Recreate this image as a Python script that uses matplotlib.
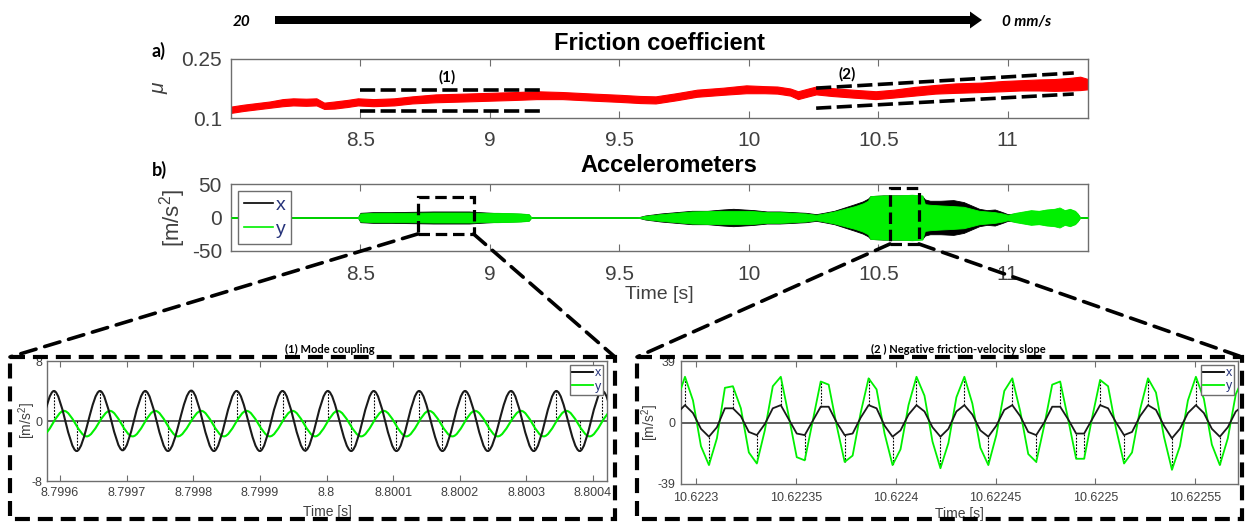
import numpy as np
import matplotlib

matplotlib.use("Agg")
import matplotlib.pyplot as plt
from matplotlib.patches import FancyArrow, Rectangle, ConnectionPatch, PathPatch
from matplotlib.path import Path
from matplotlib.lines import Line2D

plt.rcParams["font.family"] = ["Liberation Sans", "DejaVu Sans"]
plt.rcParams["mathtext.default"] = "regular"

W, H = 1245, 523
AXC = "#6e6e6e"
TXT = "#404040"
GREEN = "#00f000"
LEG_TXT = "#26337a"
OVL = ["Lato", "DejaVu Sans"]

# --- a) friction coefficient (band: centre and half width) ---
fric_t = [8.00, 8.05, 8.10, 8.15, 8.20, 8.24, 8.29, 8.33, 8.36, 8.40, 8.45, 8.49, 8.55, 8.63, 8.70,
          8.79, 8.90, 9.00, 9.10, 9.18, 9.28, 9.40, 9.50, 9.58, 9.64, 9.72, 9.80, 9.90, 9.99, 10.06,
          10.11, 10.16, 10.19, 10.23, 10.26, 10.32, 10.40, 10.49, 10.56, 10.64, 10.72, 10.80, 10.90,
          10.98, 11.05, 11.12, 11.18, 11.24, 11.28, 11.31]
fric_mu = [0.121, 0.126, 0.130, 0.134, 0.139, 0.141, 0.140, 0.141, 0.131, 0.133, 0.137, 0.141, 0.139,
           0.141, 0.146, 0.150, 0.152, 0.154, 0.156, 0.158, 0.157, 0.153, 0.150, 0.147, 0.146, 0.154,
           0.163, 0.168, 0.173, 0.172, 0.171, 0.166, 0.158, 0.165, 0.170, 0.166, 0.162, 0.158, 0.162,
           0.168, 0.173, 0.176, 0.178, 0.181, 0.183, 0.184, 0.184, 0.186, 0.188, 0.186]
fric_hw = [0.008, 0.008, 0.008, 0.008, 0.009, 0.009, 0.009, 0.009, 0.008, 0.009, 0.009, 0.009, 0.009,
           0.009, 0.009, 0.010, 0.010, 0.010, 0.010, 0.010, 0.009, 0.009, 0.009, 0.009, 0.009, 0.009,
           0.009, 0.009, 0.010, 0.009, 0.009, 0.009, 0.010, 0.010, 0.010, 0.010, 0.010, 0.010, 0.010,
           0.011, 0.011, 0.012, 0.012, 0.013, 0.013, 0.014, 0.015, 0.016, 0.017, 0.013]
box1_t, box1_hi, box1_lo = [8.50, 9.20], [0.171, 0.171], [0.118, 0.118]
box2_t, box2_hi, box2_lo = [10.26, 11.255], [0.176, 0.2145], [0.125, 0.161]
top_ticks = [8.5, 9, 9.5, 10, 10.5, 11]
top_ticklabels = ["8.5", "9", "9.5", "10", "10.5", "11"]

# --- b) accelerometer envelopes ---
acc_t = [8.00, 8.49, 8.50, 8.55, 8.62, 8.70, 8.78, 8.85, 8.92, 8.96, 9.03, 9.08, 9.12, 9.15, 9.16,
         9.57, 9.60, 9.66, 9.72, 9.78, 9.84, 9.90, 9.94, 9.98, 10.02, 10.07, 10.12, 10.17, 10.22, 10.26,
         10.29, 10.33, 10.37, 10.41, 10.44, 10.46, 10.47, 10.52, 10.58, 10.63, 10.67, 10.68, 10.70,
         10.74, 10.79, 10.83, 10.86, 10.89, 10.92, 10.95, 10.98, 11.00, 11.03, 11.06, 11.09, 11.12,
         11.15, 11.18, 11.20, 11.22, 11.24, 11.26, 11.27, 11.28, 11.31]
acc_x = [0, 0, 7, 8, 8, 8.5, 9, 9, 9, 8, 6.5, 6, 5.5, 4.5, 0, 0, 3, 6, 8, 10, 10, 12, 13, 12, 11, 9, 9,
         8, 7, 5, 7, 10, 15, 20, 24, 28, 32, 33, 33, 33, 32, 27, 25, 25, 26, 23, 18, 13, 11, 12, 8, 5, 6,
         8, 10, 9, 11, 12, 13, 10, 12, 9, 5, 0, 0]
acc_y = [0, 0, 6, 7, 7, 7, 7.5, 7.5, 7.5, 7, 7, 6.5, 6, 5, 0, 0, 2.5, 5, 7, 9, 9.5, 10, 10, 10, 9.5, 8,
         8, 7, 6, 4, 6, 9, 13, 17, 21, 25, 32, 33, 33, 34, 33, 20, 19, 18, 17, 16, 13, 10, 9, 8, 6, 4, 7,
         9, 11, 10, 12, 13, 15, 11, 13, 10, 6, 0, 0]
zoom1_box = (8.721, 8.937, -24.6, 30.6)
zoom2_box = (10.545, 10.657, -39.5, 43.6)

# --- (1) mode coupling: extrema of the two signals ---
mc_x_t = [8.799557, 8.799591, 8.799625, 8.799660, 8.799694, 8.799728, 8.799762, 8.799797, 8.799831,
          8.799865, 8.799900, 8.799934, 8.799968, 8.800002, 8.800037, 8.800071, 8.800105, 8.800139,
          8.800174, 8.800208, 8.800242, 8.800277, 8.800311, 8.800345, 8.800380, 8.800414, 8.800448]
mc_x_v = [-4.0, 4.0, -4.0, 4.0, -3.9, 4.0, -4.0, 4.05, -4.0, 4.0, -4.0, 4.0, -3.95, 4.0, -4.0, 4.0,
          -4.0, 4.0, -4.0, 4.0, -4.0, 4.0, -4.0, 4.0, -4.0, 4.0, -4.0]
mc_y_t = [8.799572, 8.799606, 8.799640, 8.799675, 8.799709, 8.799743, 8.799777, 8.799812, 8.799846,
          8.799880, 8.799915, 8.799949, 8.799983, 8.800017, 8.800052, 8.800086, 8.800120, 8.800154,
          8.800189, 8.800223, 8.800257, 8.800292, 8.800326, 8.800360, 8.800395, 8.800429, 8.800463]
mc_y_v = [-2.05, 1.35, -2.05, 1.35, -2.05, 1.35, -2.05, 1.35, -2.05, 1.35, -2.05, 1.35, -2.05, 1.35,
          -2.05, 1.35, -2.05, 1.35, -2.05, 1.35, -2.05, 1.35, -2.05, 1.35, -2.05, 1.35, -2.05]
mc_ticks = [8.7996, 8.7997, 8.7998, 8.7999, 8.8, 8.8001, 8.8002, 8.8003, 8.8004]
mc_ticklabels = ["8.7996", "8.7997", "8.7998", "8.7999", "8.8", "8.8001", "8.8002", "8.8003", "8.8004"]

# --- (2) negative friction-velocity slope: sampled signals (t in us after 10.6222 s) ---
nf_t_us = [90.4, 94.4, 98.4, 102.4, 106.4, 110.4, 114.4, 118.4, 122.4, 126.4, 130.4, 134.4, 138.4,
           142.4, 146.4, 150.4, 154.4, 158.4, 162.4, 166.4, 170.4, 174.4, 178.4, 182.4, 186.4, 190.4,
           194.4, 198.4, 202.4, 206.4, 210.4, 214.4, 218.4, 222.4, 226.4, 230.4, 234.4, 238.4, 242.4,
           246.4, 250.4, 254.4, 258.4, 262.4, 266.4, 270.4, 274.4, 278.4, 282.4, 286.4, 290.4, 294.4,
           298.4, 302.4, 306.4, 310.4, 314.4, 318.4, 322.4, 326.4, 330.4, 334.4, 338.4, 342.4, 346.4,
           350.4, 354.4, 358.4, 362.4, 366.4, 370.4, 374.4]
nf_y = [14, 29, 14, -15, -27, -10, 22, 23, 9, -19, -26, -5, 23, 29, 4, -22, -24, 1, 26, 24, -2, -25,
        -21, 6, 28, 21, -7, -27, -17, 11, 29, 17, -12, -29, -13, 16, 29, 12, -16, -27, -8, 20, 28, 7,
        -20, -25, -2, 24, 26, 2, -23, -23, 3, 27, 23, -4, -26, -19, 8, 28, 19, -9, -30, -15, 14, 29,
        15, -14, -27, -10, 18, 29]
nf_x = [6, 11, 6, -4, -9, -3, 9, 9, 4, -6, -8, -1, 9, 11, 2, -7, -8, 1, 10, 10, 0, -8, -7, 3, 11, 9,
        -2, -9, -5, 5, 11, 7, -3, -9, -4, 7, 11, 5, -5, -9, -2, 8, 11, 4, -6, -8, 0, 10, 10, 2, -7, -7,
        2, 11, 9, 0, -8, -6, 4, 11, 8, -2, -10, -4, 6, 11, 6, -4, -9, -3, 7, 11]
nf_ticks = [10.6223, 10.62235, 10.6224, 10.62245, 10.6225, 10.62255]
nf_ticklabels = ["10.6223", "10.62235", "10.6224", "10.62245", "10.6225", "10.62255"]

fig = plt.figure(figsize=(W / 100, H / 100), dpi=100)


def px_axes(l, t, r, b):
    return fig.add_axes([l / W, 1 - b / H, (r - l) / W, (b - t) / H])


def style(ax, size, pad_x, pad_y, length=5):
    for s in ax.spines.values():
        s.set_color(AXC)
        s.set_linewidth(1.0)
    ax.tick_params(direction="in", top=True, right=False, length=length, width=0.8,
                   colors=AXC, labelcolor=TXT, labelsize=size)
    ax.tick_params(axis="x", pad=pad_x)
    ax.tick_params(axis="y", pad=pad_y, length=0)


def smooth(ts, vs):
    # cubic segments between consecutive extrema, flat at each extremum
    verts, codes = [(ts[0], vs[0])], [Path.MOVETO]
    for t0, v0, t1, v1 in zip(ts[:-1], vs[:-1], ts[1:], vs[1:]):
        d = (t1 - t0) / 3
        verts += [(t0 + d, v0), (t1 - d, v1), (t1, v1)]
        codes += [Path.CURVE4] * 3
    return Path(verts, codes)


def small_legend(ax):
    ax.legend([Line2D([], [], color="k", lw=1.3), Line2D([], [], color=GREEN, lw=1.3)], ["x", "y"],
              loc="upper right", fontsize=9, handlelength=1.7, handletextpad=0.1, borderpad=0.2,
              labelspacing=0.1, borderaxespad=0.3, fancybox=False, edgecolor=AXC, framealpha=1,
              labelcolor=LEG_TXT)


# a) friction coefficient
ax_a = px_axes(231, 59, 1088, 118)
mu, hw = np.array(fric_mu), np.array(fric_hw)
ax_a.fill_between(fric_t, mu - hw, mu + hw, color="#ff0000", lw=0.8, ec="#ff0000")
dash_a = (0, (4.2, 1.5))
for tt, yy in [(box1_t, box1_hi), (box1_t, box1_lo), (box2_t, box2_hi), (box2_t, box2_lo)]:
    ax_a.plot(tt, yy, color="k", lw=2.6, ls=dash_a, zorder=4)
ax_a.set_xlim(8.0, 11.31)
ax_a.set_ylim(0.1, 0.25)
ax_a.set_xticks(top_ticks, top_ticklabels)
ax_a.set_yticks([0.1, 0.25], ["0.1", "0.25"])
style(ax_a, 15, 9.5, 6.5)
ax_a.set_ylabel("μ", fontsize=15, color=TXT, style="italic")
ax_a.yaxis.set_label_coords(-0.073, 0.5)

# b) accelerometers
ax_b = px_axes(231, 184, 1088, 251)
ax_b.axhline(0, color=GREEN, lw=1.4, zorder=1)
ax_b.fill_between(acc_t, -np.array(acc_x), acc_x, color="k", lw=0.6, zorder=2)
ax_b.fill_between(acc_t, -np.array(acc_y), acc_y, color=GREEN, lw=0.6, zorder=3)
for (t0, t1, y0, y1) in [zoom1_box, zoom2_box]:
    ax_b.add_patch(Rectangle((t0, y0), t1 - t0, y1 - y0, fill=False, ec="k", lw=2.3,
                             ls=(0, (3.6, 1.8)), clip_on=False, zorder=6))
ax_b.set_xlim(8.0, 11.31)
ax_b.set_ylim(-50, 50)
ax_b.set_xticks(top_ticks, top_ticklabels)
ax_b.set_yticks([-50, 0, 50], ["-50", "0", "50"])
style(ax_b, 15, 10, 6.5)
ax_b.set_ylabel("[m/s$^2$]", fontsize=16, color=TXT)
ax_b.yaxis.set_label_coords(-0.050, 0.5)
ax_b.set_xlabel("Time [s]", fontsize=14, color=TXT)
ax_b.xaxis.set_label_coords(0.5, -0.52)
leg = ax_b.legend([Line2D([], [], color="k", lw=1.2), Line2D([], [], color=GREEN, lw=1.2)], ["x", "y"],
                  loc="upper left", fontsize=14, handlelength=1.5, handletextpad=0.15, borderpad=0.3,
                  labelspacing=0.3, borderaxespad=0.35, fancybox=False, edgecolor=AXC,
                  framealpha=1, labelcolor=LEG_TXT)
leg.set_zorder(5)

# (1) mode coupling
ax_l = px_axes(47, 361, 607, 481)
ax_l.axhline(0, color="#505050", lw=1.3, zorder=1)
ax_l.vlines(mc_x_t, 0, mc_x_v, colors="k", lw=0.8, linestyles=(0, (1.6, 1.3)), zorder=2)
ax_l.add_patch(PathPatch(smooth(mc_y_t, mc_y_v), fc="none", ec=GREEN, lw=1.5, zorder=3))
ax_l.add_patch(PathPatch(smooth(mc_x_t, mc_x_v), fc="none", ec="#1a1a1a", lw=1.5, zorder=4))
ax_l.set_xlim(8.7995805, 8.800421)
ax_l.set_ylim(-8, 8)
ax_l.set_xticks(mc_ticks, mc_ticklabels)
ax_l.set_yticks([-8, 0, 8], ["-8", "0", "8"])
style(ax_l, 9, 4, 3, length=4)
ax_l.set_xlabel("Time [s]", fontsize=10, color=TXT)
ax_l.xaxis.set_label_coords(0.5, -0.2)
ax_l.set_ylabel("[m/s$^2$]", fontsize=10, color=TXT)
ax_l.yaxis.set_label_coords(-0.016, 0.5)
small_legend(ax_l)

# (2) negative friction-velocity slope
ax_r = px_axes(681, 361, 1238, 484)
nf_t = 10.6222 + np.array(nf_t_us) * 1e-6
g, xs = np.array(nf_y), np.array(nf_x)
ext = [i for i in range(1, len(g) - 1)
       if (g[i] >= g[i - 1] and g[i] >= g[i + 1]) or (g[i] <= g[i - 1] and g[i] <= g[i + 1])]
ax_r.axhline(0, color="#505050", lw=1.3, zorder=1)
ax_r.vlines(nf_t[ext], xs[ext], g[ext], colors="k", lw=0.8, linestyles=(0, (1.6, 1.3)), zorder=2)
ax_r.plot(nf_t, g, color=GREEN, lw=1.3, zorder=3)
ax_r.plot(nf_t, xs, color="#1a1a1a", lw=1.3, zorder=4)
ax_r.set_xlim(10.6222924, 10.6225715)
ax_r.set_ylim(-39, 39)
ax_r.set_xticks(nf_ticks, nf_ticklabels)
ax_r.set_yticks([-39, 0, 39], ["-39", "0", "39"])
style(ax_r, 9, 5.5, 4, length=4)
ax_r.set_xlabel("Time [s]", fontsize=10, color=TXT)
ax_r.xaxis.set_label_coords(0.5, -0.185)
ax_r.set_ylabel("[m/s$^2$]", fontsize=10, color=TXT)
ax_r.yaxis.set_label_coords(-0.036, 0.5)
small_legend(ax_r)

# overlay in pixel coordinates for the annotations
ov = fig.add_axes([0, 0, 1, 1], zorder=20)
ov.set_xlim(0, W)
ov.set_ylim(H, 0)
ov.axis("off")
ov.patch.set_alpha(0)

ov.add_patch(FancyArrow(275, 20, 707, 0, width=8, head_width=17, head_length=12,
                        length_includes_head=True, color="k", lw=0))
ov.text(242, 22, "20", fontsize=11, fontweight="bold", style="italic", family=OVL, ha="center", va="center")
ov.text(1002, 22, "0 mm/s", fontsize=11, fontweight="bold", style="italic", family=OVL, ha="left", va="center")
ov.text(152, 51, "a)", fontsize=13, fontweight="bold", family=OVL, ha="left", va="center")
ov.text(152, 170, "b)", fontsize=13, fontweight="bold", family=OVL, ha="left", va="center")
ov.text(660, 44, "Friction coefficient", fontsize=17, fontweight="bold", ha="center", va="center")
ov.text(669, 165, "Accelerometers", fontsize=17, fontweight="bold", ha="center", va="center")
ov.text(447, 77, "(1)", fontsize=11, fontweight="bold", family=OVL, ha="center", va="center")
ov.text(847, 74, "(2)", fontsize=11, fontweight="bold", family=OVL, ha="center", va="center")
ov.text(330, 349, "(1) Mode coupling", fontsize=8, fontweight="bold", family=OVL, ha="center", va="center")
ov.text(958, 349, "(2 ) Negative friction-velocity slope", fontsize=8, fontweight="bold", family=OVL,
        ha="center", va="center")

dash_box = (0, (3.6, 1.9))
for x0, x1 in [(10, 615), (637, 1242)]:
    ov.add_patch(Rectangle((x0, 357), x1 - x0, 162, fill=False, ec="k", lw=3.0, ls=dash_box))

(t0, t1, y0, _), (u0, u1, z0, _) = zoom1_box, zoom2_box
for (xa, ya), xb in [((t0, y0), 10), ((t1, y0), 615), ((u0, z0), 637), ((u1, z0), 1242)]:
    fig.add_artist(ConnectionPatch(xyA=(xa, ya), coordsA=ax_b.transData, xyB=(xb, 357),
                                   coordsB=ov.transData, color="k", lw=2.6, ls=(0, (4.4, 2.5)),
                                   zorder=25))

fig.savefig("out.png", dpi=100)
